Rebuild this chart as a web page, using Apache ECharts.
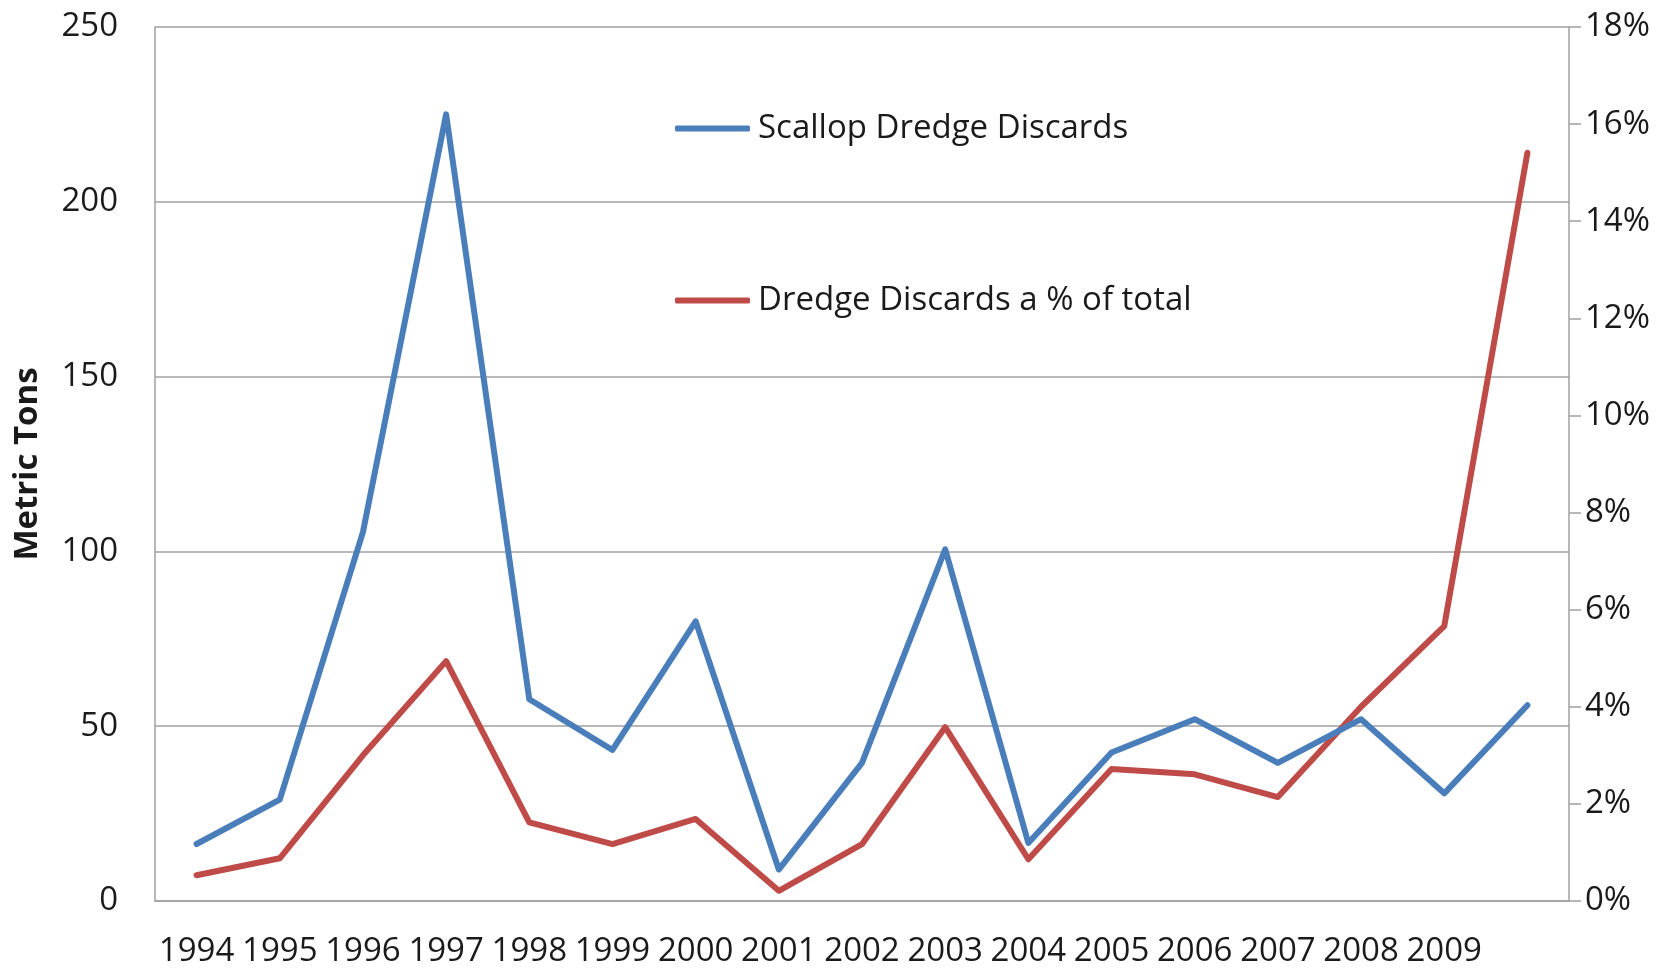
<!DOCTYPE html>
<html>
<head>
<meta charset="utf-8">
<script src="https://cdn.jsdelivr.net/npm/echarts@6/dist/echarts.min.js"></script>
<style>
html,body{margin:0;padding:0;background:#fff;}
#chart{width:1679px;height:968px;}
</style>
</head>
<body>
<div id="chart"></div>
<script>
const categories = ['1994','1995','1996','1997','1998','1999','2000','2001','2002','2003','2004','2005','2006','2007','2008','2009',''];
const scallopDiscards = [16.3, 29, 105.5, 225, 57.7, 43.2, 80, 9, 39.5, 100.6, 16.6, 42.5, 52, 39.5, 52, 30.8, 56];
const discardPercent = [0.53, 0.88, 3.0, 4.94, 1.62, 1.17, 1.69, 0.21, 1.17, 3.58, 0.86, 2.72, 2.61, 2.14, 4.0, 5.66, 15.41];
const leftTicks = {min: 0, max: 250, interval: 50};
const rightTicks = {min: 0, max: 18, interval: 2};
const seriesNames = ['Scallop Dredge Discards', 'Dredge Discards a % of total'];

const font = '"Open Sans", "Noto Sans", sans-serif';
const chart = echarts.init(document.getElementById('chart'), null, {renderer: 'canvas'});
chart.setOption({
  animation: false,
  backgroundColor: '#ffffff',
  grid: {left: 155, right: 110, top: 27, bottom: 67, containLabel: false, outerBoundsMode: 'none'},
  legend: {
    orient: 'vertical',
    left: 675,
    top: 112,
    padding: 0,
    itemGap: 139,
    icon: 'roundRect',
    itemWidth: 75,
    itemHeight: 6,
    textStyle: {fontFamily: font, fontSize: 33, color: '#1a1a1a', padding: [0, 0, 0, 3]},
    data: seriesNames
  },
  xAxis: {
    type: 'category',
    data: categories,
    boundaryGap: true,
    axisLine: {show: true, lineStyle: {color: '#a0a0a0', width: 1.5}},
    axisTick: {show: false},
    axisLabel: {interval: 0, margin: 34, fontFamily: font, fontSize: 33, color: '#1a1a1a'},
    splitLine: {show: false}
  },
  yAxis: [
    {
      type: 'value',
      min: leftTicks.min, max: leftTicks.max, interval: leftTicks.interval,
      name: 'Metric Tons',
      nameLocation: 'middle',
      nameGap: 111,
      nameRotate: 90,
      nameTextStyle: {fontFamily: font, fontSize: 33, fontWeight: 'bold', color: '#1a1a1a'},
      axisLine: {show: true, lineStyle: {color: '#a0a0a0', width: 1.5}},
      axisTick: {show: false},
      axisLabel: {margin: 37, fontFamily: font, fontSize: 33, color: '#1a1a1a'},
      splitLine: {show: true, lineStyle: {color: '#a0a0a0', width: 1.5}}
    },
    {
      type: 'value',
      position: 'right',
      min: rightTicks.min, max: rightTicks.max, interval: rightTicks.interval,
      axisLine: {show: true, lineStyle: {color: '#a0a0a0', width: 1.5}},
      axisTick: {show: true, inside: false, length: 12, lineStyle: {color: '#a0a0a0', width: 1.5}},
      axisLabel: {margin: 16, fontFamily: font, fontSize: 33, color: '#1a1a1a', formatter: '{value}%'},
      splitLine: {show: false}
    }
  ],
  series: [
    {
      name: seriesNames[0],
      type: 'line',
      yAxisIndex: 0,
      data: scallopDiscards,
      symbol: 'none',
      lineStyle: {color: '#4a7ebb', width: 6, cap: 'round', join: 'round'},
      itemStyle: {color: '#4a7ebb'},
      z: 3
    },
    {
      name: seriesNames[1],
      type: 'line',
      yAxisIndex: 1,
      data: discardPercent,
      symbol: 'none',
      lineStyle: {color: '#be4b48', width: 6, cap: 'round', join: 'round'},
      itemStyle: {color: '#be4b48'},
      z: 2
    }
  ]
});
</script>
</body>
</html>
